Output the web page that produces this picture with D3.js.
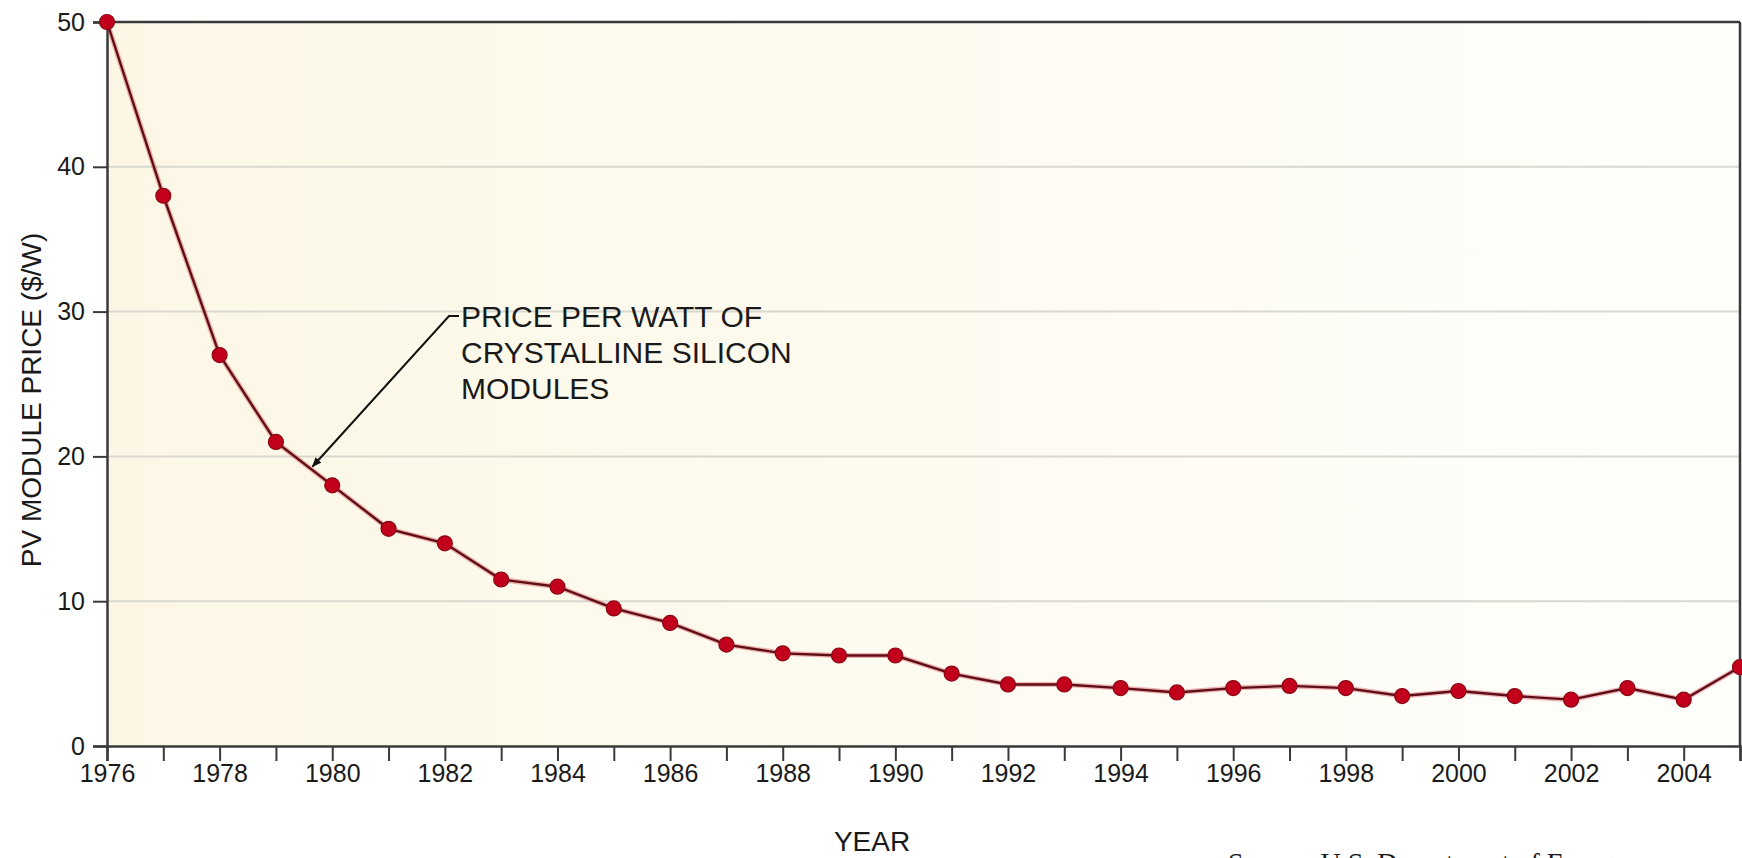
<!DOCTYPE html>
<html>
<head>
<meta charset="utf-8">
<script src="https://cdn.jsdelivr.net/npm/d3@7"></script>
<style>
  html, body { margin: 0; padding: 0; background: #ffffff; }
  svg { display: block; }
  text { font-family: "Liberation Sans", Arial, Helvetica, sans-serif; fill: #1a1a1a; }
</style>
</head>
<body>
<svg id="chart" width="1742" height="858"></svg>
<script>
// ---- data ----
const years = [1976,1977,1978,1979,1980,1981,1982,1983,1984,1985,1986,1987,1988,1989,1990,
               1991,1992,1993,1994,1995,1996,1997,1998,1999,2000,2001,2002,2003,2004,2005];
const prices = [50,38,27,21,18,15,14,11.5,11,9.5,8.5,7.0,6.4,6.25,6.25,
                5.0,4.25,4.25,4.0,3.7,4.0,4.15,4.0,3.45,3.8,3.45,3.2,4.0,3.2,5.45];
const yTicks = [0,10,20,30,40,50];
const xLabelYears = [1976,1978,1980,1982,1984,1986,1988,1990,1992,1994,1996,1998,2000,2002,2004];
const annotationLines = ["PRICE PER WATT OF", "CRYSTALLINE SILICON", "MODULES"];
const xTitle = "YEAR";
const yTitle = "PV MODULE PRICE ($/W)";
const sourceText = "Source: U.S. Department of Energy";

// ---- layout ----
const W = 1742, H = 858;
const m = { left: 107, right: 2, top: 22, bottom: 112 };
const svg = d3.select("#chart");

const x = d3.scaleLinear().domain([1976, 2005]).range([m.left, W - m.right]);
const y = d3.scaleLinear().domain([0, 50]).range([H - m.bottom, m.top]);

// background gradient
const defs = svg.append("defs");
const grad = defs.append("linearGradient").attr("id", "bg").attr("x1", "0").attr("x2", "1").attr("y1", "0").attr("y2", "0");
grad.append("stop").attr("offset", "0%").attr("stop-color", "#fcf7e5");
grad.append("stop").attr("offset", "45%").attr("stop-color", "#fdfaef");
grad.append("stop").attr("offset", "100%").attr("stop-color", "#fefefb");

svg.append("rect")
  .attr("x", x(1976)).attr("y", y(50))
  .attr("width", x(2005) - x(1976)).attr("height", y(0) - y(50))
  .attr("fill", "url(#bg)");

// gridlines
svg.append("g").selectAll("line")
  .data(yTicks.filter(d => d > 0 && d < 50))
  .join("line")
  .attr("x1", x(1976)).attr("x2", x(2005))
  .attr("y1", d => y(d)).attr("y2", d => y(d))
  .attr("stroke", "#d9d8cf").attr("stroke-width", 2);

// frame: top and right
svg.append("line").attr("x1", x(1976)).attr("x2", x(2005)).attr("y1", y(50)).attr("y2", y(50))
  .attr("stroke", "#3a3a3a").attr("stroke-width", 2.5);
svg.append("line").attr("x1", x(2005)).attr("x2", x(2005)).attr("y1", y(50)).attr("y2", y(0))
  .attr("stroke", "#3a3a3a").attr("stroke-width", 2.5);

// x axis
const xAxis = d3.axisBottom(x)
  .tickValues(years)
  .tickSize(15)
  .tickPadding(3)
  .tickFormat(d => xLabelYears.includes(d) ? String(d) : "");
const gx = svg.append("g").attr("transform", `translate(0,${y(0)})`).call(xAxis);
gx.select(".domain").attr("stroke", "#3a3a3a").attr("stroke-width", 2.5);
gx.selectAll(".tick line").attr("stroke", "#3a3a3a").attr("stroke-width", 2);
gx.selectAll(".tick text").attr("font-size", 25).attr("fill", "#1a1a1a")
  .style("font-family", '"Liberation Sans", Arial, sans-serif');

// y axis
const yAxis = d3.axisLeft(y).tickValues(yTicks).tickSize(14).tickPadding(8).tickFormat(d3.format("d"));
const gy = svg.append("g").attr("transform", `translate(${x(1976)},0)`).call(yAxis);
gy.select(".domain").attr("stroke", "#3a3a3a").attr("stroke-width", 2.5);
gy.selectAll(".tick line").attr("stroke", "#3a3a3a").attr("stroke-width", 2);
gy.selectAll(".tick text").attr("font-size", 25).attr("fill", "#1a1a1a")
  .style("font-family", '"Liberation Sans", Arial, sans-serif');

// axis titles
svg.append("text")
  .attr("x", 872).attr("y", 851)
  .attr("text-anchor", "middle").attr("font-size", 28)
  .text(xTitle);
svg.append("text")
  .attr("transform", `translate(41, 400) rotate(-90)`)
  .attr("text-anchor", "middle").attr("font-size", 28)
  .text(yTitle);

// source (cut off at bottom, as in the original)
svg.append("text")
  .attr("x", 1228).attr("y", 872)
  .attr("font-size", 28)
  .style("font-family", '"Liberation Serif", "Times New Roman", serif')
  .text(sourceText);

// data series
const pts = years.map((yr, i) => ({ yr, v: prices[i] }));
const line = d3.line().x(d => x(d.yr)).y(d => y(d.v));
svg.append("path").datum(pts).attr("d", line)
  .attr("fill", "none").attr("stroke", "#d4283a").attr("stroke-opacity", 0.35).attr("stroke-width", 5);
svg.append("path").datum(pts).attr("d", line)
  .attr("fill", "none").attr("stroke", "#5e0f16").attr("stroke-width", 2.4);
svg.append("g").selectAll("circle").data(pts).join("circle")
  .attr("cx", d => x(d.yr)).attr("cy", d => y(d.v)).attr("r", 7.5)
  .attr("fill", "#c2001b").attr("stroke", "#8a0614").attr("stroke-width", 1.2);

// annotation
defs.append("marker").attr("id", "arrow").attr("viewBox", "0 0 10 10")
  .attr("refX", 9).attr("refY", 5).attr("markerWidth", 5).attr("markerHeight", 5)
  .attr("orient", "auto")
  .append("path").attr("d", "M0,1 L10,5 L0,9 Z").attr("fill", "#111");
const tipX = x(1979.65), tipY = y(19.3);
svg.append("path")
  .attr("d", `M459,316 L449,316 L${tipX},${tipY}`)
  .attr("fill", "none").attr("stroke", "#111").attr("stroke-width", 2)
  .attr("marker-end", "url(#arrow)");
svg.append("g").selectAll("text").data(annotationLines).join("text")
  .attr("x", 461).attr("y", (d, i) => 327 + i * 36)
  .attr("font-size", 30)
  .text(d => d);
</script>
</body>
</html>
